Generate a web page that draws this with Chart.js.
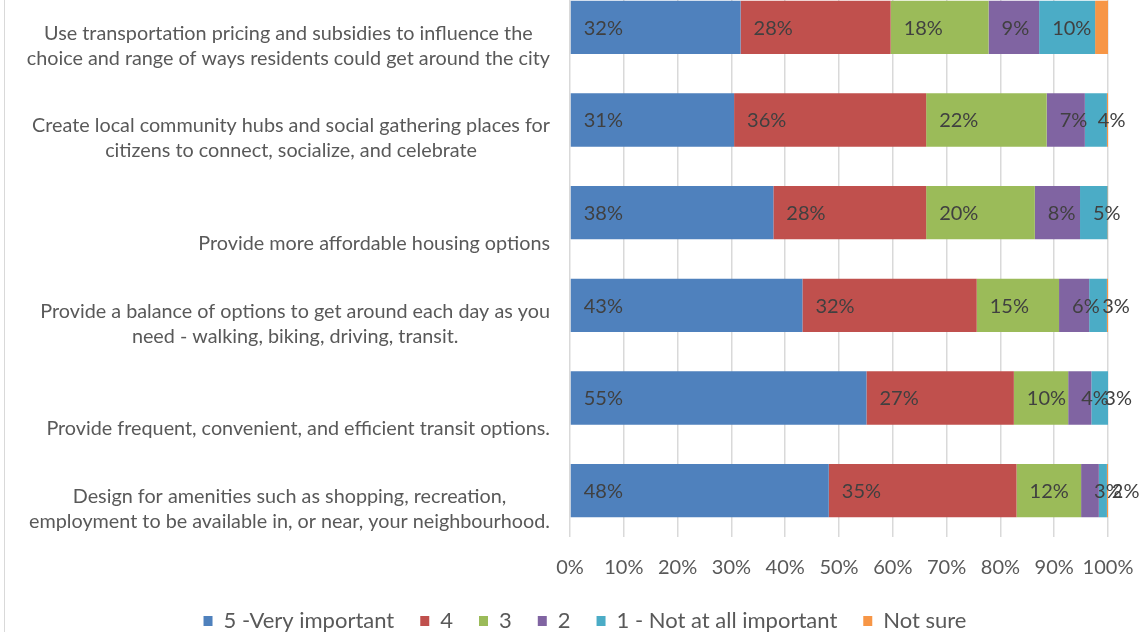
<!DOCTYPE html>
<html>
<head>
<meta charset="utf-8">
<script src="https://cdn.jsdelivr.net/npm/chart.js@4.4.0/dist/chart.umd.min.js"></script>
<style>
  html, body { margin: 0; padding: 0; background: #fff; overflow: hidden; }
  #wrap { position: relative; width: 1147px; height: 632px; overflow: hidden; }
  #frame { position: absolute; left: 4px; top: 0; width: 1px; height: 632px; background: #d9d9d9; }
  #box { position: absolute; left: 0; top: -20px; width: 1147px; height: 652px; }
</style>
</head>
<body>
<div id="wrap">
  <div id="frame"></div>
  <div id="box"><canvas id="chart"></canvas></div>
</div>
<script>
// 类别（每行一个数组元素，多行标签）
const categories = [
    ['Use transportation pricing and subsidies to influence the', 'choice and range of ways residents could get around the city'],
    ['Create local community hubs and social gathering places for', 'citizens to connect, socialize, and celebrate'],
    ['Provide more affordable housing options'],
    ['Provide a balance of options to get around each day as you', 'need - walking, biking, driving, transit.'],
    ['Provide frequent, convenient, and efficient transit options.'],
    ['Design for amenities such as shopping, recreation,', 'employment to be available in, or near, your neighbourhood.']
];

const seriesNames = ['5 -Very important', '4', '3', '2', '1 - Not at all important', 'Not sure'];

const veryImportant = [31.7, 30.5, 37.8, 43.2, 55.1, 48.1];
const four          = [27.9, 35.7, 28.4, 32.4, 27.4, 34.9];
const three         = [18.2, 22.4, 20.2, 15.3, 10.1, 12.0];
const two           = [9.4, 7.1, 8.4, 5.6, 4.3, 3.3];
const notImportant  = [10.4, 4.1, 5.1, 3.3, 3.1, 1.5];
const notSure       = [2.4, 0.2, 0.1, 0.2, 0, 0.2];

const xTicks = [0, 10, 20, 30, 40, 50, 60, 70, 80, 90, 100];

const colors = ['#4F81BD', '#C0504D', '#9BBB59', '#8064A2', '#4BACC6', '#F79646'];
const FONT = 'Lato, "Noto Sans", sans-serif';

// 数据标签：放在每段起点右侧
const segmentLabels = {
    id: 'segmentLabels',
    afterDatasetsDraw(chart) {
        const ctx = chart.ctx;
        ctx.save();
        ctx.font = '20px ' + FONT;
        ctx.fillStyle = '#404040';
        ctx.textAlign = 'left';
        ctx.textBaseline = 'middle';
        chart.data.datasets.forEach((ds, di) => {
            if (di === chart.data.datasets.length - 1) return; // Not sure 不显示
            const meta = chart.getDatasetMeta(di);
            meta.data.forEach((bar, i) => {
                const v = ds.data[i];
                if (!v) return;
                ctx.fillText(Math.round(v) + '%', bar.base + 13, bar.y + 1);
            });
        });
        ctx.restore();
    }
};

// 类别标签：文本块居中，整体右对齐
const categoryLabels = {
    id: 'categoryLabels',
    afterDraw(chart) {
        const ctx = chart.ctx;
        const yScale = chart.scales.y;
        const right = 550;
        const lineH = 25;
        ctx.save();
        ctx.font = '19.8px ' + FONT;
        ctx.fillStyle = '#595959';
        ctx.textAlign = 'center';
        ctx.textBaseline = 'middle';
        categories.forEach((lines, i) => {
            const yc = yScale.getPixelForValue(i);
            const w = Math.max(...lines.map(l => ctx.measureText(l).width));
            const cx = right - w / 2;
            lines.forEach((l, k) => {
                const y = yc + 31 - (lines.length - 1 - k) * lineH;
                ctx.fillText(l, cx, y);
            });
        });
        ctx.restore();
    }
};

const allSeries = [veryImportant, four, three, two, notImportant, notSure];

new Chart(document.getElementById('chart').getContext('2d'), {
    type: 'bar',
    data: {
        labels: categories.map(c => c.join(' ')),
        datasets: allSeries.map((d, i) => ({
            label: seriesNames[i],
            data: d,
            backgroundColor: colors[i],
            borderWidth: 0,
            categoryPercentage: 1,
            barPercentage: 0.575
        }))
    },
    options: {
        indexAxis: 'y',
        responsive: true,
        maintainAspectRatio: false,
        animation: false,
        layout: {
            padding: { left: 62, right: 39, top: 1, bottom: -10 }
        },
        scales: {
            x: {
                stacked: true,
                min: 0,
                max: 100,
                afterBuildTicks: (s) => { s.ticks = xTicks.map(v => ({ value: v })); },
                afterFit: (s) => {
                    s.height = s.height - 15;
                    s.paddingLeft = 0;
                    s.paddingRight = 0;
                },
                ticks: {
                    callback: v => v + '%',
                    font: { family: FONT, size: 20 },
                    color: '#595959',
                    padding: 19,
                    maxRotation: 0,
                    minRotation: 0,
                    autoSkip: false
                },
                grid: {
                    color: '#d9d9d9',
                    lineWidth: 1.5,
                    drawTicks: false
                },
                border: { display: false }
            },
            y: {
                stacked: true,
                ticks: { display: false },
                grid: { display: false },
                border: { display: false },
                afterFit: (s) => { s.width = 508; }
            }
        },
        plugins: {
            legend: {
                position: 'bottom',
                labels: {
                    boxWidth: 9,
                    boxHeight: 10,
                    padding: 26,
                    color: '#595959',
                    font: { family: FONT, size: 22 }
                }
            },
            tooltip: { enabled: false }
        }
    },
    plugins: [segmentLabels, categoryLabels]
});
</script>
</body>
</html>
